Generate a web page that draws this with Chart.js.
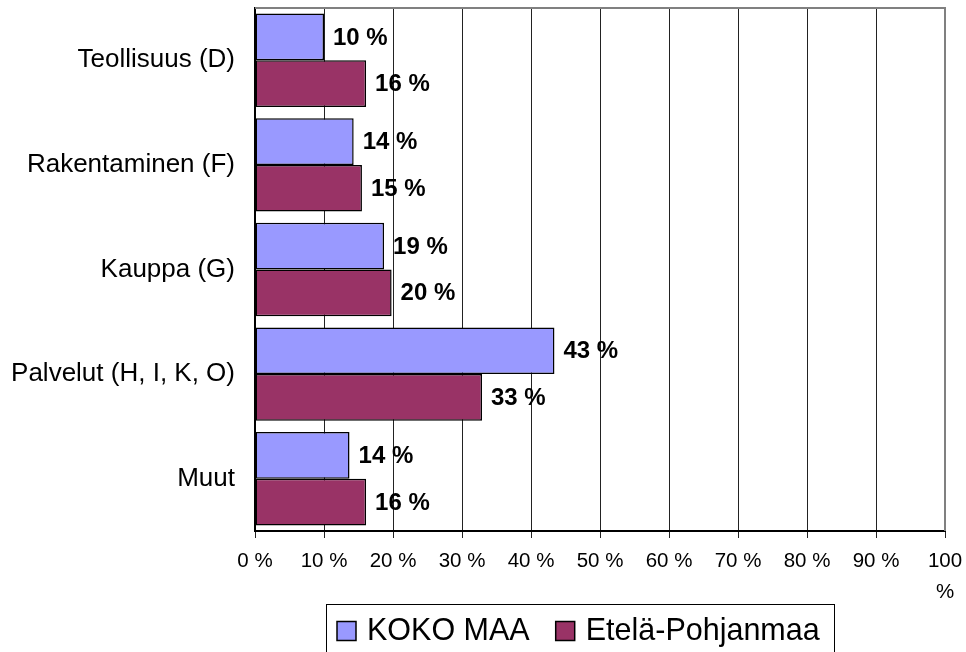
<!DOCTYPE html>
<html>
<head>
<meta charset="utf-8">
<script src="https://cdn.jsdelivr.net/npm/chart.js@4/dist/chart.umd.min.js"></script>
<style>
  html, body { margin: 0; padding: 0; background: #fff; }
  #wrap { width: 966px; height: 652px; position: relative; }
</style>
</head>
<body>
<div id="wrap"><canvas id="c" width="966" height="652"></canvas></div>
<script>
const categories = ['Teollisuus (D)', 'Rakentaminen (F)', 'Kauppa (G)', 'Palvelut (H, I, K, O)', 'Muut'];
const seriesNames = ['KOKO MAA', 'Etelä-Pohjanmaa'];
const kokoMaa = [10, 14.3, 18.7, 43.4, 13.7];
const etelaPohjanmaa = [16.1, 15.5, 19.8, 32.9, 16.1];
const kokoMaaLabels = ['10 %', '14 %', '19 %', '43 %', '14 %'];
const etelaLabels = ['16 %', '15 %', '20 %', '33 %', '16 %'];
const xTickLabels = ['0 %', '10 %', '20 %', '30 %', '40 %', '50 %', '60 %', '70 %', '80 %', '90 %', ['100', '%']];

const FONT = 'Arial, "Liberation Sans", sans-serif';

const dataLabelPlugin = {
  id: 'dataLabels',
  afterDatasetsDraw(chart) {
    const ctx = chart.ctx;
    ctx.save();
    ctx.font = 'bold 24px ' + FONT;
    ctx.fillStyle = '#000';
    ctx.textAlign = 'left';
    ctx.textBaseline = 'middle';
    chart.data.datasets.forEach((ds, di) => {
      const meta = chart.getDatasetMeta(di);
      meta.data.forEach((bar, i) => {
        ctx.fillText(ds.valueLabels[i], bar.x + 9, bar.y + 1);
      });
    });
    ctx.restore();
  }
};

const frameLegendPlugin = {
  id: 'frameLegend',
  beforeDatasetsDraw(chart) {
    const { ctx, chartArea: a } = chart;
    ctx.save();
    ctx.strokeStyle = '#808080';
    ctx.lineWidth = 2;
    ctx.beginPath();
    ctx.moveTo(a.left, a.top);
    ctx.lineTo(a.right, a.top);
    ctx.lineTo(a.right, a.bottom);
    ctx.stroke();
    ctx.restore();
  },
  afterDraw(chart) {
    const ctx = chart.ctx;
    ctx.save();
    const bx = 326, by = 604, bw = 508, bh = 70;
    ctx.strokeStyle = '#000';
    ctx.lineWidth = 1;
    ctx.strokeRect(bx + 0.5, by + 0.5, bw, bh);
    ctx.font = '30.5px ' + FONT;
    ctx.textBaseline = 'middle';
    ctx.textAlign = 'left';
    let x = bx + 11;
    const cy = 631;
    chart.data.datasets.forEach((ds) => {
      ctx.fillStyle = ds.backgroundColor;
      ctx.fillRect(x, cy - 9.5, 19, 19);
      ctx.lineWidth = 1.5;
      ctx.strokeStyle = '#000';
      ctx.strokeRect(x, cy - 9.5, 19, 19);
      ctx.fillStyle = '#000';
      ctx.fillText(ds.label, x + 30, cy + 1);
      x += 30 + ctx.measureText(ds.label).width + 26;
    });
    ctx.restore();
  }
};

new Chart(document.getElementById('c'), {
  type: 'bar',
  data: {
    labels: categories,
    datasets: [
      { label: seriesNames[0], data: kokoMaa, valueLabels: kokoMaaLabels,
        backgroundColor: '#9999FF', borderColor: '#000', borderWidth: 1.5, borderSkipped: false },
      { label: seriesNames[1], data: etelaPohjanmaa, valueLabels: etelaLabels,
        backgroundColor: '#993366', borderColor: '#000', borderWidth: 1.5, borderSkipped: false }
    ]
  },
  options: {
    indexAxis: 'y',
    responsive: false,
    animation: false,
    devicePixelRatio: 1,
    layout: { padding: { top: 8, right: 21, left: 0, bottom: 0 } },
    datasets: { bar: { categoryPercentage: 0.893, barPercentage: 1.0 } },
    plugins: { legend: { display: false }, tooltip: { enabled: false } },
    scales: {
      x: {
        min: 0, max: 100,
        ticks: {
          stepSize: 10,
          color: '#000',
          font: { family: FONT, size: 20.5, lineHeight: 1.5 },
          padding: 8,
          maxRotation: 0,
          autoSkip: false,
          callback: (v, i) => xTickLabels[i]
        },
        grid: { color: '#222', lineWidth: 1, drawTicks: true, tickLength: 7, tickColor: '#222' },
        border: { display: true, color: '#000', width: 2 },
        afterFit(scale) { scale.height = 121; scale.paddingLeft = 0; scale.paddingRight = 0; }
      },
      y: {
        ticks: { color: '#000', font: { family: FONT, size: 26 }, padding: 20 },
        grid: { display: false, drawTicks: false },
        border: { display: true, color: '#000', width: 2 },
        afterFit(scale) { scale.width = 255; scale.paddingTop = 0; scale.paddingBottom = 0; }
      }
    }
  },
  plugins: [frameLegendPlugin, dataLabelPlugin]
});
</script>
</body>
</html>
